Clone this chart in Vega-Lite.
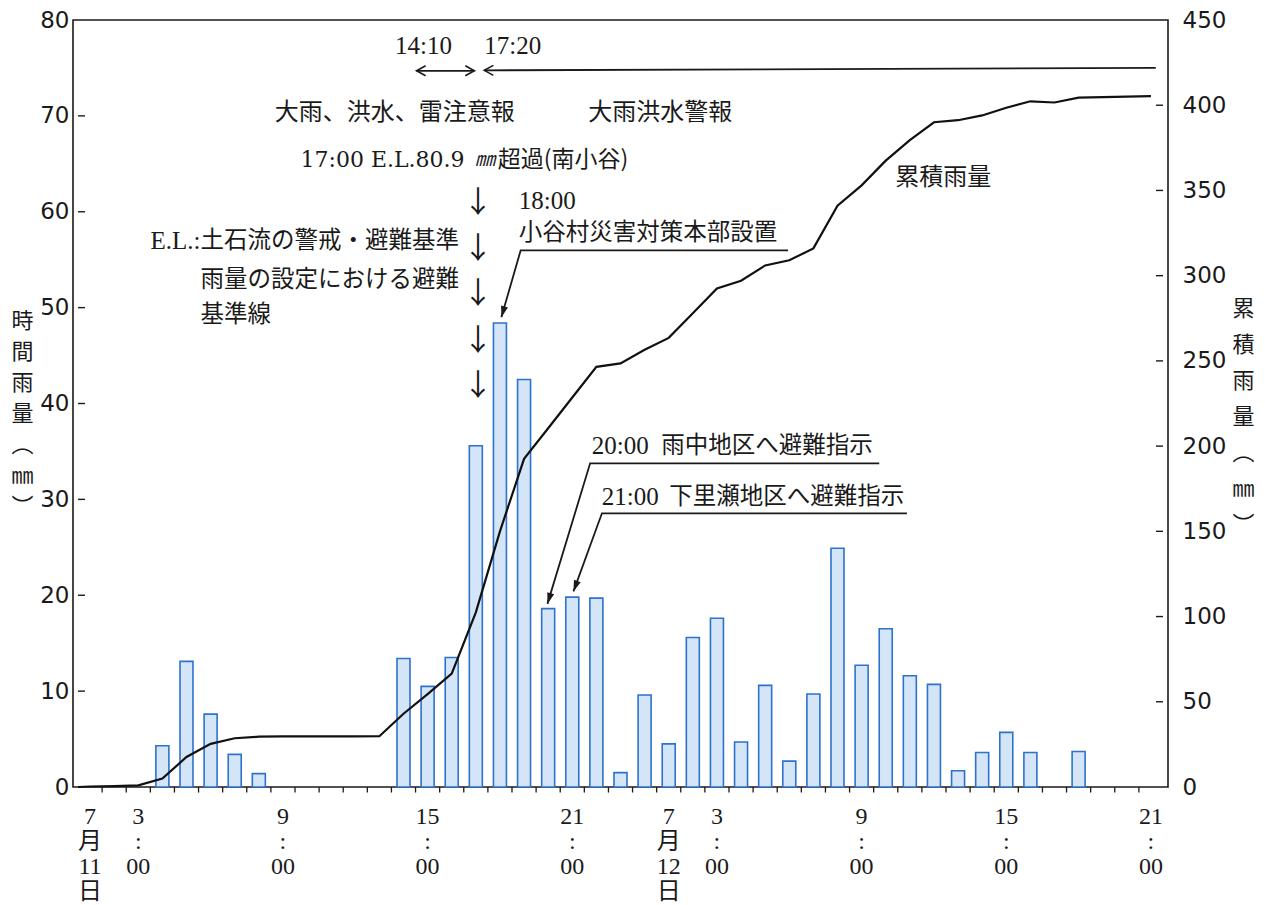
{
  "$schema": "https://vega.github.io/schema/vega-lite/v6.json",
  "width": 1095,
  "height": 767,
  "autosize": "none",
  "padding": {"left": 73, "top": 20, "right": 97, "bottom": 118},
  "background": "white",
  "config": {
    "view": {"stroke": "#1a1a1a", "strokeWidth": 1.6},
    "axis": {"grid": false, "domain": false, "tickColor": "#1a1a1a", "labelColor": "#1a1a1a", "titleColor": "#1a1a1a", "labelOverlap": false, "labelFlush": false, "labelBound": false}
  },
  "datasets": {
    "rain": [
      {"h": 0.5, "rain": 0, "cum": 0},
      {"h": 1, "rain": 0, "cum": 0.3},
      {"h": 2, "rain": 0, "cum": 0.5},
      {"h": 3, "rain": 0, "cum": 1.0},
      {"h": 4, "rain": 4.3, "cum": 5.0},
      {"h": 5, "rain": 13.1, "cum": 17.6},
      {"h": 6, "rain": 7.6, "cum": 25.3},
      {"h": 7, "rain": 3.4, "cum": 28.6},
      {"h": 8, "rain": 1.4, "cum": 29.5},
      {"h": 9, "rain": 0, "cum": 29.7},
      {"h": 10, "rain": 0, "cum": 29.7},
      {"h": 11, "rain": 0, "cum": 29.7},
      {"h": 12, "rain": 0, "cum": 29.7},
      {"h": 13, "rain": 0, "cum": 29.8},
      {"h": 14, "rain": 13.4, "cum": 43.0},
      {"h": 15, "rain": 10.5, "cum": 54.5},
      {"h": 16, "rain": 13.5, "cum": 66.5},
      {"h": 17, "rain": 35.6, "cum": 102.5},
      {"h": 18, "rain": 48.4, "cum": 150.0},
      {"h": 19, "rain": 42.5, "cum": 192.5},
      {"h": 20, "rain": 18.6, "cum": 210.5},
      {"h": 21, "rain": 19.8, "cum": 228.5},
      {"h": 22, "rain": 19.7, "cum": 246.5},
      {"h": 23, "rain": 1.5, "cum": 248.5},
      {"h": 24, "rain": 9.6, "cum": 256.5},
      {"h": 25, "rain": 4.5, "cum": 263.5},
      {"h": 26, "rain": 15.6, "cum": 278.0},
      {"h": 27, "rain": 17.6, "cum": 292.5},
      {"h": 28, "rain": 4.7, "cum": 297.0},
      {"h": 29, "rain": 10.6, "cum": 306.0},
      {"h": 30, "rain": 2.7, "cum": 309.0},
      {"h": 31, "rain": 9.7, "cum": 316.0},
      {"h": 32, "rain": 24.9, "cum": 341.0},
      {"h": 33, "rain": 12.7, "cum": 353.0},
      {"h": 34, "rain": 16.5, "cum": 367.5},
      {"h": 35, "rain": 11.6, "cum": 379.5},
      {"h": 36, "rain": 10.7, "cum": 390.0},
      {"h": 37, "rain": 1.7, "cum": 391.2},
      {"h": 38, "rain": 3.6, "cum": 394.0},
      {"h": 39, "rain": 5.7, "cum": 398.5},
      {"h": 40, "rain": 3.6, "cum": 402.3},
      {"h": 41, "rain": 0, "cum": 401.6},
      {"h": 42, "rain": 3.7, "cum": 404.5},
      {"h": 43, "rain": 0, "cum": 404.8},
      {"h": 44, "rain": 0, "cum": 405.0},
      {"h": 45, "rain": 0, "cum": 405.3}
    ],
    "xTicks": [
      {"b": 1.5}, {"b": 2.5}, {"b": 3.5}, {"b": 4.5}, {"b": 5.5}, {"b": 6.5}, {"b": 7.5}, {"b": 8.5}, {"b": 9.5}, {"b": 10.5},
      {"b": 11.5}, {"b": 12.5}, {"b": 13.5}, {"b": 14.5}, {"b": 15.5}, {"b": 16.5}, {"b": 17.5}, {"b": 18.5}, {"b": 19.5}, {"b": 20.5},
      {"b": 21.5}, {"b": 22.5}, {"b": 23.5}, {"b": 24.5}, {"b": 25.5}, {"b": 26.5}, {"b": 27.5}, {"b": 28.5}, {"b": 29.5}, {"b": 30.5},
      {"b": 31.5}, {"b": 32.5}, {"b": 33.5}, {"b": 34.5}, {"b": 35.5}, {"b": 36.5}, {"b": 37.5}, {"b": 38.5}, {"b": 39.5}, {"b": 40.5},
      {"b": 41.5}, {"b": 42.5}, {"b": 43.5}, {"b": 44.5}
    ],
    "xLabels": [
      {"h": 1, "t": "7\n月\n11\n日"},
      {"h": 3, "t": "3\n:\n00"},
      {"h": 9, "t": "9\n:\n00"},
      {"h": 15, "t": "15\n:\n00"},
      {"h": 21, "t": "21\n:\n00"},
      {"h": 25, "t": "7\n月\n12\n日"},
      {"h": 27, "t": "3\n:\n00"},
      {"h": 33, "t": "9\n:\n00"},
      {"h": 39, "t": "15\n:\n00"},
      {"h": 45, "t": "21\n:\n00"}
    ],
    "leftTicks": [{"v": 10}, {"v": 20}, {"v": 30}, {"v": 40}, {"v": 50}, {"v": 60}, {"v": 70}],
    "rightTicks": [{"c": 50}, {"c": 100}, {"c": 150}, {"c": 200}, {"c": 250}, {"c": 300}, {"c": 350}, {"c": 400}],
    "lines": [
      {"g": "a18", "o": 1, "h": 29.95, "v": 55.98},
      {"g": "a18", "o": 2, "h": 18.86, "v": 55.98},
      {"g": "a18", "o": 3, "h": 18.06, "v": 49.0},
      {"g": "a20", "o": 1, "h": 33.73, "v": 33.76},
      {"g": "a20", "o": 2, "h": 21.74, "v": 33.76},
      {"g": "a20", "o": 3, "h": 19.97, "v": 19.1},
      {"g": "a21", "o": 1, "h": 34.88, "v": 28.55},
      {"g": "a21", "o": 2, "h": 22.23, "v": 28.55},
      {"g": "a21", "o": 3, "h": 21.05, "v": 20.4},
      {"g": "d", "o": 1, "h": 14.54, "v": 74.7},
      {"g": "d", "o": 2, "h": 16.94, "v": 74.7},
      {"g": "l", "o": 1, "h": 17.35, "v": 74.75},
      {"g": "l", "o": 2, "h": 45.2, "v": 75.0}
    ],
    "headsFilled": [
      {"h": 18.06, "v": 49.0, "a": 16.2},
      {"h": 19.97, "v": 19.1, "a": 17.1},
      {"h": 21.05, "v": 20.4, "a": 20.2}
    ],
    "headsOpen": [
      {"h": 14.54, "v": 74.7, "a": 0},
      {"h": 16.94, "v": 74.7, "a": 180},
      {"h": 17.35, "v": 74.75, "a": 0}
    ],
    "cjkCenter": [
      {"h": 13.64, "v": 70.3, "t": "大雨、洪水、雷注意報"},
      {"h": 24.65, "v": 70.3, "t": "大雨洪水警報"},
      {"h": 36.39, "v": 63.5, "t": "累積雨量"}
    ],
    "cjkLeft": [
      {"h": 5.58, "v": 56.9, "t": "土石流の警戒・避難基準"},
      {"h": 5.58, "v": 52.9, "t": "雨量の設定における避難"},
      {"h": 5.58, "v": 49.2, "t": "基準線"},
      {"h": 18.78, "v": 57.75, "t": "小谷村災害対策本部設置"},
      {"h": 24.69, "v": 35.54, "t": "雨中地区へ避難指示"},
      {"h": 25.02, "v": 30.25, "t": "下里瀬地区へ避難指示"}
    ],
    "cjkSmallLeft": [
      {"h": 17.91, "v": 65.37, "t": "超過(南小谷)"}
    ],
    "serifLeft": [
      {"h": 18.78, "v": 61.1, "t": "18:00"},
      {"h": 21.81, "v": 35.54, "t": "20:00"},
      {"h": 22.22, "v": 30.25, "t": "21:00"}
    ],
    "serifWideLeft": [
      {"h": 9.73, "v": 65.37, "t": "17:00 E.L.80.9"}
    ],
    "serifRight": [
      {"h": 5.58, "v": 56.9, "t": "E.L.: "}
    ],
    "serifCenter": [
      {"h": 14.83, "v": 77.3, "t": "14:10"},
      {"h": 18.53, "v": 77.3, "t": "17:20"}
    ],
    "mm": [
      {"h": 17.38, "v": 65.37, "t": "㎜"}
    ],
    "downArrows": [
      {"h": 17.09, "v": 60.9, "t": "↓"},
      {"h": 17.09, "v": 56.1, "t": "↓"},
      {"h": 17.09, "v": 51.4, "t": "↓"},
      {"h": 17.09, "v": 46.5, "t": "↓"},
      {"h": 17.09, "v": 41.8, "t": "↓"}
    ]
  },
  "layer": [
    {
      "data": {"name": "rain"},
      "transform": [{"filter": "datum.rain > 0"}],
      "mark": {"type": "bar", "orient": "vertical", "width": 13, "fill": "#d3e5f7", "stroke": "#2d72cc", "strokeWidth": 1.6},
      "encoding": {
        "x": {"field": "h", "type": "quantitative", "scale": {"domain": [0.5, 45.5], "nice": false, "zero": false}, "axis": null},
        "y": {
          "field": "rain", "type": "quantitative",
          "scale": {"domain": [0, 80], "nice": false},
          "axis": {
            "orient": "left",
            "values": [0,10,20,30,40,50,60,70,80],
            "ticks": false,
            "labelFont": "DejaVu Sans",
            "labelFontSize": 23,
            "labelPadding": 4,
            "title": ["時","間","雨","量","︵","㎜","︶"],
            "titleAngle": 0,
            "titleFont": "Noto Sans CJK JP",
            "titleFontSize": 22,
            "titleFontWeight": "normal",
            "titleLineHeight": 31,
            "titleAlign": "center",
            "titleBaseline": "top",
            "titleX": -51,
            "titleY": 290
          }
        }
      }
    },
    {
      "data": {"name": "xTicks"},
      "mark": {"type": "rule", "color": "#1a1a1a", "strokeWidth": 1.3, "clip": false},
      "encoding": {
        "x": {"field": "b", "type": "quantitative", "scale": {"domain": [0.5, 45.5], "nice": false, "zero": false}, "axis": null},
        "y": {"datum": 0, "type": "quantitative", "scale": {"domain": [0, 80], "nice": false}, "axis": null},
        "y2": {"datum": -0.58}
      }
    },
    {
      "data": {"name": "xLabels"},
      "mark": {"type": "text", "font": "Liberation Serif, Noto Sans CJK JP", "fontSize": 24, "lineBreak": "\n", "lineHeight": 25, "align": "center", "baseline": "top", "color": "#1a1a1a", "clip": false},
      "encoding": {
        "x": {"field": "h", "type": "quantitative", "scale": {"domain": [0.5, 45.5], "nice": false, "zero": false}, "axis": null},
        "y": {"datum": -1.9, "type": "quantitative", "scale": {"domain": [0, 80], "nice": false}, "axis": null},
        "text": {"field": "t"}
      }
    },
    {
      "data": {"name": "leftTicks"},
      "mark": {"type": "rule", "color": "#1a1a1a", "strokeWidth": 1.4},
      "encoding": {
        "x": {"datum": 0.5, "type": "quantitative", "scale": {"domain": [0.5, 45.5], "nice": false, "zero": false}, "axis": null},
        "x2": {"datum": 0.79},
        "y": {"field": "v", "type": "quantitative", "scale": {"domain": [0, 80], "nice": false}, "axis": null}
      }
    },
    {
      "data": {"name": "rightTicks"},
      "mark": {"type": "rule", "color": "#1a1a1a", "strokeWidth": 1.4},
      "encoding": {
        "x": {"datum": 45.21, "type": "quantitative", "scale": {"domain": [0.5, 45.5], "nice": false, "zero": false}, "axis": null},
        "x2": {"datum": 45.5},
        "y": {"field": "c", "type": "quantitative", "scale": {"domain": [0, 450], "nice": false}, "axis": null}
      }
    },
    {
      "data": {"name": "lines"},
      "mark": {"type": "line", "color": "#1a1a1a", "strokeWidth": 1.8, "clip": false},
      "encoding": {
        "x": {"field": "h", "type": "quantitative", "scale": {"domain": [0.5, 45.5], "nice": false, "zero": false}, "axis": null},
        "y": {"field": "v", "type": "quantitative", "scale": {"domain": [0, 80], "nice": false}, "axis": null},
        "detail": {"field": "g"},
        "order": {"field": "o"}
      }
    },
    {
      "data": {"name": "headsFilled"},
      "mark": {"type": "point", "shape": "M0,0L-0.32,-1L0.32,-1Z", "filled": true, "color": "#1a1a1a", "opacity": 1, "size": 500},
      "encoding": {
        "x": {"field": "h", "type": "quantitative", "scale": {"domain": [0.5, 45.5], "nice": false, "zero": false}, "axis": null},
        "y": {"field": "v", "type": "quantitative", "scale": {"domain": [0, 80], "nice": false}, "axis": null},
        "angle": {"field": "a", "type": "quantitative", "scale": null}
      }
    },
    {
      "data": {"name": "headsOpen"},
      "mark": {"type": "point", "shape": "M1,-0.55L0,0L1,0.55", "filled": false, "color": "#1a1a1a", "strokeWidth": 1.6, "opacity": 1, "size": 330},
      "encoding": {
        "x": {"field": "h", "type": "quantitative", "scale": {"domain": [0.5, 45.5], "nice": false, "zero": false}, "axis": null},
        "y": {"field": "v", "type": "quantitative", "scale": {"domain": [0, 80], "nice": false}, "axis": null},
        "angle": {"field": "a", "type": "quantitative", "scale": null}
      }
    },
    {
      "data": {"name": "cjkCenter"},
      "mark": {"type": "text", "font": "Noto Sans CJK JP", "fontSize": 24, "align": "center", "baseline": "middle", "color": "#1a1a1a"},
      "encoding": {
        "x": {"field": "h", "type": "quantitative", "scale": {"domain": [0.5, 45.5], "nice": false, "zero": false}, "axis": null},
        "y": {"field": "v", "type": "quantitative", "scale": {"domain": [0, 80], "nice": false}, "axis": null},
        "text": {"field": "t"}
      }
    },
    {
      "data": {"name": "cjkLeft"},
      "mark": {"type": "text", "font": "Noto Sans CJK JP", "fontSize": 23.5, "align": "left", "baseline": "middle", "color": "#1a1a1a"},
      "encoding": {
        "x": {"field": "h", "type": "quantitative", "scale": {"domain": [0.5, 45.5], "nice": false, "zero": false}, "axis": null},
        "y": {"field": "v", "type": "quantitative", "scale": {"domain": [0, 80], "nice": false}, "axis": null},
        "text": {"field": "t"}
      }
    },
    {
      "data": {"name": "cjkSmallLeft"},
      "mark": {"type": "text", "font": "Noto Sans CJK JP", "fontSize": 23, "align": "left", "baseline": "middle", "color": "#1a1a1a"},
      "encoding": {
        "x": {"field": "h", "type": "quantitative", "scale": {"domain": [0.5, 45.5], "nice": false, "zero": false}, "axis": null},
        "y": {"field": "v", "type": "quantitative", "scale": {"domain": [0, 80], "nice": false}, "axis": null},
        "text": {"field": "t"}
      }
    },
    {
      "data": {"name": "serifLeft"},
      "mark": {"type": "text", "font": "Liberation Serif", "fontSize": 25, "align": "left", "baseline": "middle", "color": "#1a1a1a"},
      "encoding": {
        "x": {"field": "h", "type": "quantitative", "scale": {"domain": [0.5, 45.5], "nice": false, "zero": false}, "axis": null},
        "y": {"field": "v", "type": "quantitative", "scale": {"domain": [0, 80], "nice": false}, "axis": null},
        "text": {"field": "t"}
      }
    },
    {
      "data": {"name": "serifWideLeft"},
      "mark": {"type": "text", "font": "DejaVu Serif", "fontSize": 22, "align": "left", "baseline": "middle", "color": "#1a1a1a"},
      "encoding": {
        "x": {"field": "h", "type": "quantitative", "scale": {"domain": [0.5, 45.5], "nice": false, "zero": false}, "axis": null},
        "y": {"field": "v", "type": "quantitative", "scale": {"domain": [0, 80], "nice": false}, "axis": null},
        "text": {"field": "t"}
      }
    },
    {
      "data": {"name": "serifRight"},
      "mark": {"type": "text", "font": "Liberation Serif", "fontSize": 25, "align": "right", "baseline": "middle", "color": "#1a1a1a"},
      "encoding": {
        "x": {"field": "h", "type": "quantitative", "scale": {"domain": [0.5, 45.5], "nice": false, "zero": false}, "axis": null},
        "y": {"field": "v", "type": "quantitative", "scale": {"domain": [0, 80], "nice": false}, "axis": null},
        "text": {"field": "t"}
      }
    },
    {
      "data": {"name": "serifCenter"},
      "mark": {"type": "text", "font": "Liberation Serif", "fontSize": 25, "align": "center", "baseline": "middle", "color": "#1a1a1a"},
      "encoding": {
        "x": {"field": "h", "type": "quantitative", "scale": {"domain": [0.5, 45.5], "nice": false, "zero": false}, "axis": null},
        "y": {"field": "v", "type": "quantitative", "scale": {"domain": [0, 80], "nice": false}, "axis": null},
        "text": {"field": "t"}
      }
    },
    {
      "data": {"name": "mm"},
      "mark": {"type": "text", "font": "Noto Sans CJK JP", "fontSize": 20, "fontStyle": "italic", "align": "center", "baseline": "middle", "color": "#1a1a1a"},
      "encoding": {
        "x": {"field": "h", "type": "quantitative", "scale": {"domain": [0.5, 45.5], "nice": false, "zero": false}, "axis": null},
        "y": {"field": "v", "type": "quantitative", "scale": {"domain": [0, 80], "nice": false}, "axis": null},
        "text": {"field": "t"}
      }
    },
    {
      "data": {"name": "downArrows"},
      "mark": {"type": "text", "font": "Noto Sans CJK JP", "fontSize": 30, "align": "center", "baseline": "middle", "color": "#1a1a1a"},
      "encoding": {
        "x": {"field": "h", "type": "quantitative", "scale": {"domain": [0.5, 45.5], "nice": false, "zero": false}, "axis": null},
        "y": {"field": "v", "type": "quantitative", "scale": {"domain": [0, 80], "nice": false}, "axis": null},
        "text": {"field": "t"}
      }
    },
    {
      "data": {"name": "rain"},
      "mark": {"type": "line", "color": "#111111", "strokeWidth": 2.2},
      "encoding": {
        "x": {"field": "h", "type": "quantitative", "scale": {"domain": [0.5, 45.5], "nice": false, "zero": false}, "axis": null},
        "y": {
          "field": "cum", "type": "quantitative",
          "scale": {"domain": [0, 450], "nice": false},
          "axis": {
            "orient": "right",
            "values": [0,50,100,150,200,250,300,350,400,450],
            "ticks": false,
            "labelFont": "DejaVu Sans",
            "labelFontSize": 23,
            "labelPadding": 14,
            "title": ["累","積","雨","量","︵","㎜","︶"],
            "titleAngle": 0,
            "titleFont": "Noto Sans CJK JP",
            "titleFontSize": 22,
            "titleFontWeight": "normal",
            "titleLineHeight": 36,
            "titleAlign": "center",
            "titleBaseline": "top",
            "titleX": 75,
            "titleY": 278
          }
        }
      }
    }
  ],
  "resolve": {"scale": {"y": "independent"}, "axis": {"y": "independent"}}
}
